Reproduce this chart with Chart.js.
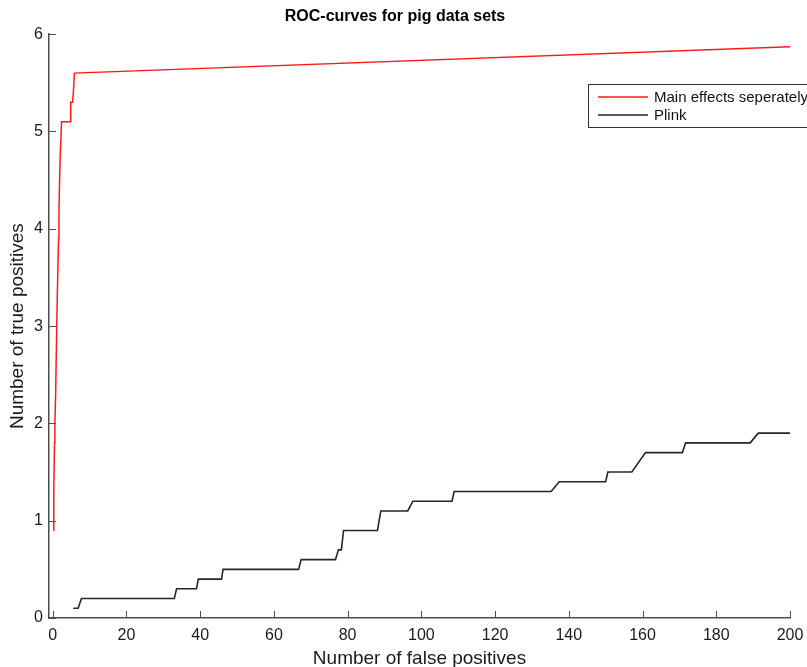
<!DOCTYPE html>
<html>
<head>
<meta charset="utf-8">
<script src="https://cdn.jsdelivr.net/npm/chart.js@4"></script>
<style>
    html, body { margin: 0; padding: 0; background: #fff; }
    canvas { display: block; }
</style>
</head>
<body>
<canvas id="rocChart" width="807" height="667"></canvas>
<script>
// ROC curve for "Main effects seperately"
const mainFP = [0.2, 0.3, 0.5, 0.6, 0.8, 1.1, 1.3, 1.6, 1.7, 2.0, 2.4, 4.7, 4.9, 5.4, 5.6, 5.9, 200];
const mainTP = [0.9, 1.3, 1.8, 2.0, 2.3, 3.0, 3.4, 3.9, 4.2, 4.7, 5.1, 5.1, 5.3, 5.3, 5.4, 5.6, 5.87];

// ROC curve for Plink
const plinkFP = [5.6, 6.9, 7.8, 33, 33.6, 39, 39.5, 45.8, 46.2, 66.7, 67.4, 76.7, 77.5, 78.3, 78.9, 88.1, 89,
    96.3, 97.7, 108.3, 108.9, 135.2, 137.4, 150, 150.6, 157.1, 160.8, 170.8, 171.7, 189.2, 191.4, 200];
const plinkTP = [0.1, 0.1, 0.2, 0.2, 0.3, 0.3, 0.4, 0.4, 0.5, 0.5, 0.6, 0.6, 0.7, 0.7, 0.9, 0.9, 1.1,
    1.1, 1.2, 1.2, 1.3, 1.3, 1.4, 1.4, 1.5, 1.5, 1.7, 1.7, 1.8, 1.8, 1.9, 1.9];

const xTicks = [0, 20, 40, 60, 80, 100, 120, 140, 160, 180, 200];
const yTicks = [0, 1, 2, 3, 4, 5, 6];

const fontFamily = "'Liberation Sans', Arial, Helvetica, sans-serif";
const axisColor = "#4d4d4d";

const toPoints = (xs, ys) => xs.map((x, i) => ({ x: x, y: ys[i] }));

// MATLAB style ticks pointing into the plot
const innerTicks = {
    id: "innerTicks",
    afterDatasetsDraw(chart) {
        const { ctx, chartArea, scales } = chart;
        ctx.save();
        ctx.strokeStyle = axisColor;
        ctx.lineWidth = 1;
        ctx.beginPath();
        scales.x.ticks.forEach(t => {
            const px = Math.round(scales.x.getPixelForValue(t.value)) + 0.5;
            ctx.moveTo(px, chartArea.bottom);
            ctx.lineTo(px, chartArea.bottom - 7);
        });
        scales.y.ticks.forEach(t => {
            const py = Math.round(scales.y.getPixelForValue(t.value)) + 0.5;
            ctx.moveTo(chartArea.left, py);
            ctx.lineTo(chartArea.left + 7, py);
        });
        ctx.stroke();
        ctx.restore();
    }
};

// boxed legend in the upper right, partly cut by the edge like the original
const boxLegend = {
    id: "boxLegend",
    afterDraw(chart) {
        const { ctx } = chart;
        const x0 = 588, y0 = 84, w = 230, h = 43;
        ctx.save();
        ctx.fillStyle = "#fff";
        ctx.fillRect(x0, y0, w, h);
        ctx.strokeStyle = "#333";
        ctx.lineWidth = 1;
        ctx.strokeRect(x0 + 0.5, y0 + 0.5, w, h);
        ctx.font = "15px " + fontFamily;
        ctx.textBaseline = "middle";
        chart.data.datasets.forEach((ds, i) => {
            const y = y0 + 13 + i * 18;
            ctx.strokeStyle = ds.borderColor;
            ctx.lineWidth = 1.3;
            ctx.beginPath();
            ctx.moveTo(x0 + 10, y);
            ctx.lineTo(x0 + 60, y);
            ctx.stroke();
            ctx.fillStyle = "#111";
            ctx.fillText(ds.label, x0 + 66, y + 1);
        });
        ctx.restore();
    }
};

new Chart(document.getElementById("rocChart"), {
    type: "scatter",
    data: {
        datasets: [
            {
                label: "Main effects seperately",
                data: toPoints(mainFP, mainTP),
                showLine: true,
                borderColor: "#ff1a1a",
                borderWidth: 1.5,
                pointRadius: 0,
                tension: 0
            },
            {
                label: "Plink",
                data: toPoints(plinkFP, plinkTP),
                showLine: true,
                borderColor: "#262626",
                borderWidth: 1.6,
                pointRadius: 0,
                tension: 0
            }
        ]
    },
    options: {
        responsive: false,
        animation: false,
        layout: { padding: { left: 0, right: 17, top: 0, bottom: 0 } },
        plugins: {
            legend: { display: false },
            tooltip: { enabled: false },
            title: {
                display: true,
                text: "ROC-curves for pig data sets",
                color: "#000",
                font: { family: fontFamily, size: 16, weight: "bold" },
                padding: { top: 7, bottom: 8 }
            }
        },
        scales: {
            x: {
                type: "linear",
                min: -1,
                max: 200,
                afterBuildTicks: s => { s.ticks = xTicks.map(v => ({ value: v })); },
                afterFit: s => { s.height = 49; s.paddingRight = 0; s.paddingLeft = 0; },
                grid: { display: false, drawTicks: false },
                border: { display: true, color: axisColor, width: 1.5 },
                ticks: {
                    color: "#1a1a1a",
                    padding: 8,
                    maxRotation: 0,
                    font: { family: fontFamily, size: 16 }
                },
                title: {
                    display: true,
                    text: "Number of false positives",
                    color: "#1a1a1a",
                    font: { family: fontFamily, size: 19, lineHeight: 1 },
                    padding: { top: 0, bottom: -1 }
                }
            },
            y: {
                type: "linear",
                min: 0,
                max: 6,
                afterBuildTicks: s => { s.ticks = yTicks.map(v => ({ value: v })); },
                afterFit: s => { s.width = 49; },
                grid: { display: false, drawTicks: false },
                border: { display: true, color: axisColor, width: 1.5 },
                ticks: {
                    color: "#1a1a1a",
                    padding: 6,
                    font: { family: fontFamily, size: 16 }
                },
                title: {
                    display: true,
                    text: "Number of true positives",
                    color: "#1a1a1a",
                    font: { family: fontFamily, size: 19, lineHeight: 1 },
                    padding: { top: 8, bottom: 0 }
                }
            }
        }
    },
    plugins: [innerTicks, boxLegend]
});
</script>
</body>
</html>
